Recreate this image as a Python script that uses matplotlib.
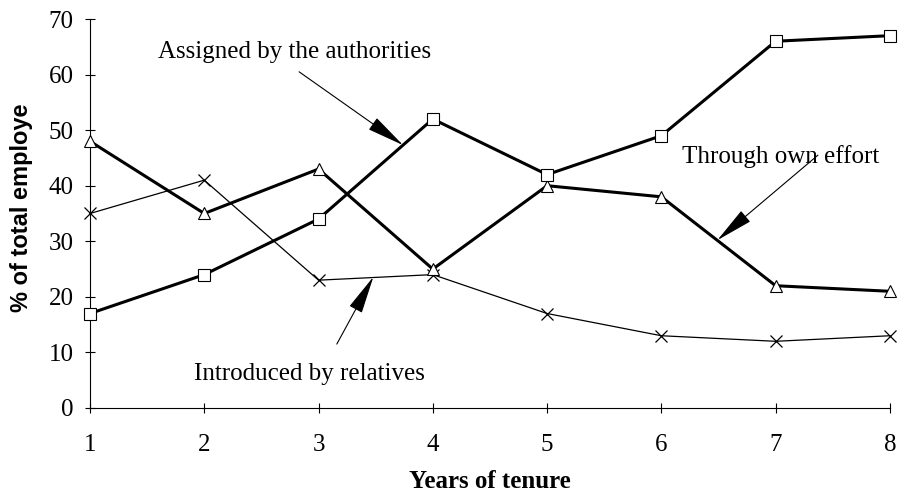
import numpy as np
import matplotlib
matplotlib.use('Agg')
import matplotlib.pyplot as plt

years = [1, 2, 3, 4, 5, 6, 7, 8]
assigned = [17, 24, 34, 52, 42, 49, 66, 67]
own_effort = [48, 35, 43, 25, 40, 38, 22, 21]
relatives = [35, 41, 23, 24, 17, 13, 12, 13]

yticks = [0, 10, 20, 30, 40, 50, 60, 70]

serif = 'Liberation Serif'
sans = 'Liberation Sans'

f = plt.figure(figsize=(8.98, 4.95), dpi=100)
ax = f.add_axes([0.1002, 0.1758, 0.8908, 0.7858])

ax.plot(years, relatives, 'x-', color='black', lw=0.9, ms=9, mew=0.9, zorder=2)
ax.plot(years, own_effort, '^-', color='black', lw=2.2, ms=9, mfc='white',
        mec='black', mew=0.8, zorder=3)
ax.plot(years, assigned, 's-', color='black', lw=2.2, ms=8.5, mfc='white',
        mec='black', mew=0.8, zorder=4)

ax.set_xlim(1, 8)
ax.set_ylim(0, 70)
ax.set_xticks(years)
ax.set_yticks(yticks)
for lab in ax.get_xticklabels() + ax.get_yticklabels():
    lab.set_fontfamily(serif)
    lab.set_fontsize(18)
ax.tick_params(axis='both', direction='inout', length=7.2, width=0.8)
ax.tick_params(axis='x', pad=15)
ax.tick_params(axis='y', pad=8)

ax.spines['top'].set_visible(False)
ax.spines['right'].set_visible(False)
ax.spines['left'].set_linewidth(0.8)
ax.spines['bottom'].set_linewidth(0.8)
for l in ax.lines:
    l.set_clip_on(False)

ax.set_xlabel('Years of tenure', fontfamily=serif, fontweight='bold', fontsize=18,
              va='center')
ax.xaxis.set_label_coords(0.5, -0.19)
ax.set_ylabel('% of total employe', fontfamily=sans, fontweight='bold', fontsize=17)
ax.yaxis.set_label_coords(-0.071, 0.515)

arrow = dict(arrowstyle='-|>,head_length=1.5,head_width=0.28', color='black',
             lw=0.8, shrinkA=0, shrinkB=0, mutation_scale=16)

# text labels and pointer arrows
ax.text(2.79, 64, 'Assigned by the authorities', fontfamily=serif, fontsize=18,
        ha='center', va='center')
ax.annotate('', xy=(3.74, 47.3), xytext=(2.83, 60.5), arrowprops=arrow)

ax.text(7.04, 45.2, 'Through own effort', fontfamily=serif, fontsize=18,
        ha='center', va='center', zorder=1)
ax.annotate('', xy=(6.49, 30.2), xytext=(7.37, 45.5), arrowprops=arrow)

ax.text(2.92, 6.1, 'Introduced by relatives', fontfamily=serif, fontsize=18,
        ha='center', va='center')
ax.annotate('', xy=(3.48, 23.6), xytext=(3.16, 11.5), arrowprops=arrow)

f.savefig('out.png', dpi=100)
